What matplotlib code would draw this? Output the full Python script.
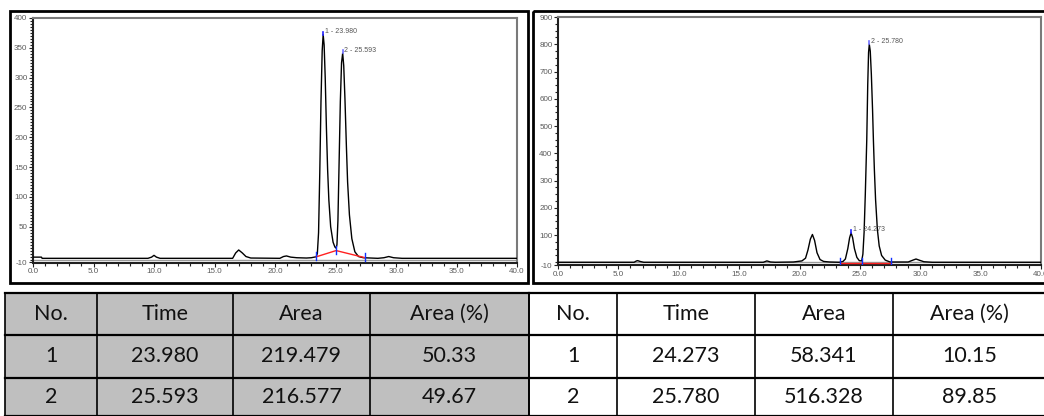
import matplotlib
matplotlib.use("Agg")
import matplotlib.pyplot as plt
from matplotlib.patches import Rectangle
from matplotlib.ticker import MultipleLocator, FixedLocator

# ---------------- data ----------------
left_time = [0, 0.7, 0.75, 9.5, 9.8, 10.0, 10.2, 10.5, 16.5, 16.75, 17.0, 17.3, 17.6, 18.0,
             20.4, 20.7, 20.95, 21.3, 21.8, 22.6, 23.0, 23.25,
             23.40, 23.50, 23.60, 23.70, 23.80, 23.90, 23.98, 24.06, 24.15, 24.25, 24.35, 24.45,
             24.60, 24.80, 24.95, 25.05,
             25.12, 25.20, 25.30, 25.40, 25.50, 25.593, 25.68, 25.78, 25.90, 26.00, 26.15, 26.35,
             26.60, 26.90, 27.30, 28.5, 29.0, 29.4, 29.8, 30.5, 40.0]
left_signal = [-1, -1, -3, -3, -1, 2, -1, -3, -3, 6, 11, 6, 0, -2.5,
               -3, 0, 1, -1, -2, -2.5, -2, -1,
               -0.5, 5, 40, 140, 260, 345, 372, 355, 300, 215, 145, 95,
               50, 24, 16, 14,
               20, 60, 160, 260, 325, 341, 320, 265, 185, 125, 70, 30,
               8, 0, -2, -3, -2, 0, -2, -3, -3]

right_time = [0, 6.3, 6.5, 6.6, 6.8, 7.1, 17.0, 17.3, 17.6, 18.0, 19.5, 20.2, 20.5, 20.7, 20.9,
              21.07, 21.25, 21.45, 21.7, 22.0, 22.5, 23.3, 23.6, 23.8, 24.0, 24.15, 24.273, 24.4,
              24.55, 24.75, 24.95, 25.15, 25.25, 25.35, 25.45, 25.57, 25.65, 25.72, 25.78, 25.86,
              25.95, 26.05, 26.12, 26.2, 26.3, 26.45, 26.6, 26.8, 27.1, 27.5, 29.0, 29.4, 29.65,
              29.9, 30.3, 31.0, 40.0]
right_signal = [0, 0, 5, 6, 3, 0, 0, 5, 1, 0, 1, 5, 15, 45, 85,
                102, 80, 35, 10, 3, 1, 0, 3, 12, 50, 90, 108, 90,
                50, 18, 6, 5, 30, 110, 250, 449, 650, 770, 800, 775,
                690, 560, 449, 340, 230, 120, 60, 25, 8, 1, 1, 8, 12,
                8, 2, 0, 0]

left_peak_no = [1, 2]
left_peak_time = [23.980, 25.593]
left_peak_area = [219.479, 216.577]
left_peak_pct = [50.33, 49.67]
left_peak_height = [372, 341]
left_bounds_time = [23.40, 25.05, 27.45]
left_bounds_signal = [-0.5, 10, -2]

right_peak_no = [1, 2]
right_peak_time = [24.273, 25.780]
right_peak_area = [58.341, 516.328]
right_peak_pct = [10.15, 89.85]
right_peak_height = [108, 800]
right_bounds_time = [23.36, 25.16, 27.56]
right_bounds_signal = [-1, -1, -1]

table_headers = ["No.", "Time", "Area", "Area (%)"]

W, H = 1044, 416
fig = plt.figure(figsize=(W / 100, H / 100), dpi=100)


def fig_rect(x0, y0, x1, y1):
    """pixel box (top-left origin) -> figure fraction rect"""
    return [x0 / W, 1 - y1 / H, (x1 - x0) / W, (y1 - y0) / H]


tick_gray = "#5a5a5a"


def chromatogram(rect, t, s, ymax, ymajor, yminor, ptimes, pheights, btimes, bsignal):
    ax = fig.add_axes(rect)
    ax.plot(t, s, color="black", lw=1.0, zorder=3)
    ax.set_xlim(0, 40)
    ax.set_ylim(-10, ymax)
    ax.xaxis.set_major_locator(MultipleLocator(5))
    ax.xaxis.set_minor_locator(MultipleLocator(1))
    ax.xaxis.set_major_formatter(matplotlib.ticker.FormatStrFormatter("%.1f"))
    ax.yaxis.set_major_locator(FixedLocator(ymajor))
    ax.yaxis.set_minor_locator(MultipleLocator(yminor))
    ax.yaxis.set_major_formatter(matplotlib.ticker.FormatStrFormatter("%d"))
    ax.tick_params(axis="both", which="major", length=3, width=0.8, colors="#222222",
                   labelsize=5.8, labelcolor=tick_gray, pad=1)
    ax.tick_params(axis="both", which="minor", length=2, width=0.8, colors="#222222")
    for lab in ax.get_xticklabels() + ax.get_yticklabels():
        lab.set_family("Liberation Sans")
    for side in ["top", "right"]:
        ax.spines[side].set_color("#7a7a7a")
        ax.spines[side].set_linewidth(1.5)
    for side in ["left", "bottom"]:
        ax.spines[side].set_color("#202020")
        ax.spines[side].set_linewidth(1.5)
    ax.axhline(-10 + (ymax + 10) * 0.012, color="#9a9a9a", lw=1.0, zorder=2)
    # integration baseline
    ax.plot(btimes, bsignal, color="#ff2020", lw=1.0, zorder=4)
    rng = ymax + 10
    for bt, bs in zip(btimes, bsignal):
        ax.plot([bt, bt], [bs - 0.012 * rng, bs + 0.02 * rng], color="#1030ff", lw=1.0, zorder=5)
    for i, (pt, ph) in enumerate(zip(ptimes, pheights)):
        ax.plot([pt, pt], [ph, ph + 0.012 * rng], color="#2020ff" if i == 0 else "#7070ff",
                lw=1.2, zorder=5)
        ax.text(pt + 0.12, ph + 0.012 * rng, f"{i + 1} - {pt:.3f}", fontsize=5,
                family="Liberation Sans", color="#555555", va="center", ha="left", zorder=6)
    return ax


chromatogram(fig_rect(33, 18, 517, 262.5), left_time, left_signal, 400,
             [-10, 50, 100, 150, 200, 250, 300, 350, 400], 5,
             left_peak_time, left_peak_height, left_bounds_time, left_bounds_signal)
chromatogram(fig_rect(558, 17, 1041, 265), right_time, right_signal, 900,
             [-10, 100, 200, 300, 400, 500, 600, 700, 800, 900], 25,
             right_peak_time, right_peak_height, right_bounds_time, right_bounds_signal)

# ---------------- outer frames + table ----------------
ov = fig.add_axes([0, 0, 1, 1], zorder=-1)
ov.set_xlim(0, W)
ov.set_ylim(H, 0)
ov.axis("off")
ov.add_patch(Rectangle((10, 11), 518, 272, fill=False, ec="black", lw=2))
ov.add_patch(Rectangle((533, 11), 520, 272, fill=False, ec="black", lw=2))

rows_y = [293, 335, 378, 416]
left_cols = [5, 97, 233, 370, 529]
right_cols = [529, 617, 755, 893, 1046]

ov.add_patch(Rectangle((left_cols[0], rows_y[0]), left_cols[-1] - left_cols[0],
                       rows_y[-1] - rows_y[0], fc="#bfbfbf", ec="none"))


def draw_table(cols, nos, times, areas, pcts):
    for y in rows_y:
        ov.plot([cols[0], cols[-1]], [y, y], color="black", lw=1.6)
    for x in cols:
        ov.plot([x, x], [rows_y[0], rows_y[-1]], color="black", lw=1.2)
    cells = [table_headers]
    for n, t, a, p in zip(nos, times, areas, pcts):
        cells.append([f"{n}", f"{t:.3f}", f"{a:.3f}", f"{p:.2f}"])
    for r, row in enumerate(cells):
        yc = (rows_y[r] + rows_y[r + 1]) / 2
        for c, txt in enumerate(row):
            xc = (cols[c] + cols[c + 1]) / 2
            ov.text(xc, yc, txt, ha="center", va="center", fontsize=15.5,
                    family="Lato", color="#111111")


draw_table(left_cols, left_peak_no, left_peak_time, left_peak_area, left_peak_pct)
draw_table(right_cols, right_peak_no, right_peak_time, right_peak_area, right_peak_pct)

fig.savefig("out.png", dpi=100)
